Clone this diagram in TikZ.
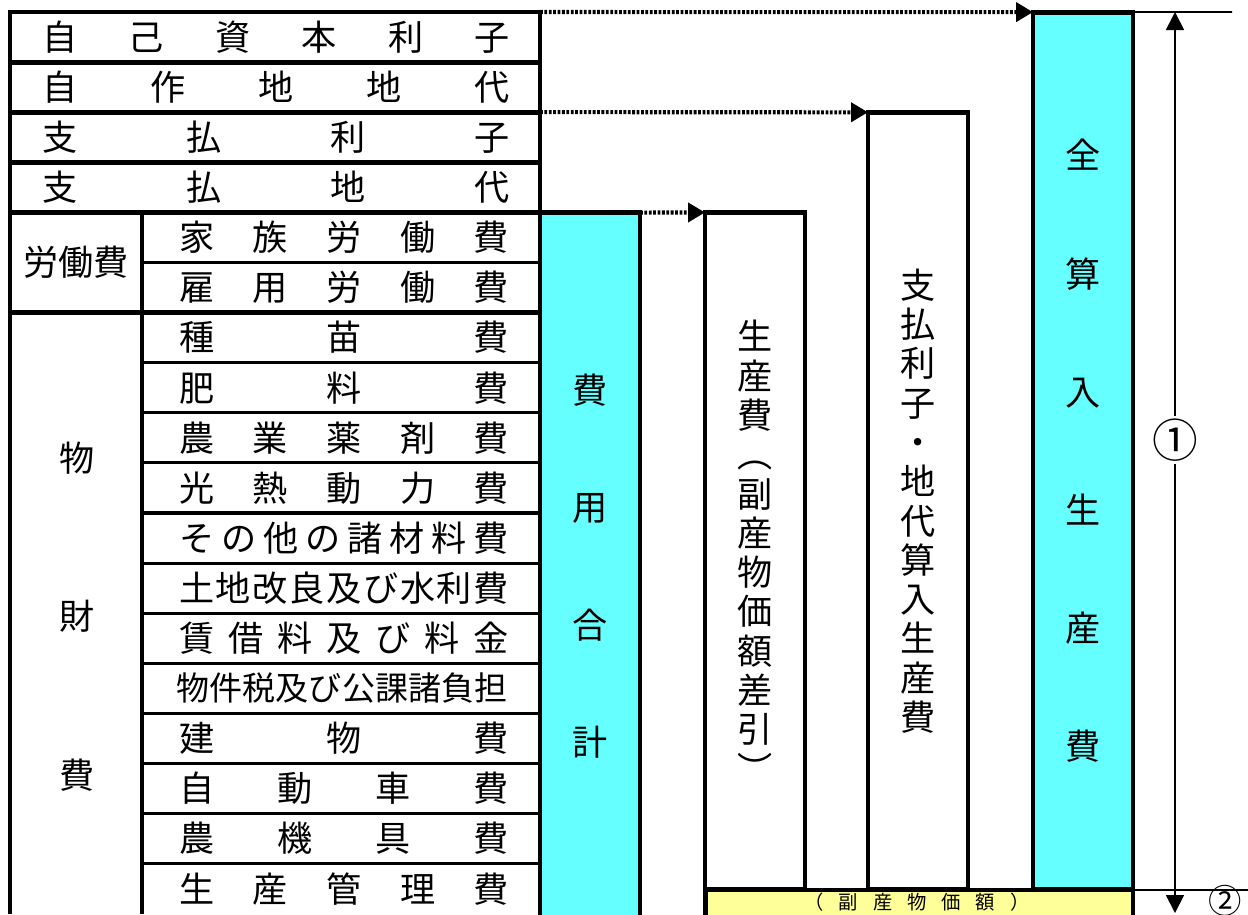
\documentclass[tikz,border=0pt]{standalone}
\usepackage{fontspec}
\setmainfont{Noto Sans CJK JP}
\usetikzlibrary{arrows.meta}

\definecolor{sumcyan}{RGB}{102,255,255}
\definecolor{byyellow}{RGB}{255,255,153}

% spread the characters of #2 evenly over a box of width #1
\newcommand{\spreadrow}[2]{\hbox to #1{\expandafter\spreadrowaux#2\relax}}
\def\spreadrowaux#1#2{#1\ifx\relax#2\else\hfill\expandafter\spreadrowaux\expandafter#2\fi}

\tikzstyle{tblline} = [line width=2.8pt]
\tikzstyle{tblsub} = [line width=1.8pt]
\tikzstyle{rowtext} = [inner sep=0pt, font=\fontsize{20pt}{24pt}\selectfont]
\tikzstyle{colbox} = [draw=black, line width=2.8pt, inner sep=0pt, outer sep=0pt, minimum width=2cm, align=center]
\tikzstyle{dotarrow} = [line width=2.3pt, dash pattern=on 1.6pt off 0.9pt, -{Triangle[length=0.34cm,width=0.38cm]}]
\tikzstyle{dimarrow} = [line width=1pt, -{Triangle[length=0.36cm,width=0.36cm]}]
\tikzstyle{marktext} = [inner sep=1.5pt, font=\fontsize{26pt}{30pt}\selectfont]

\begin{document}
\begin{tikzpicture}[x=0.02cm, y=-0.02cm]
\useasboundingbox (0,0) rectangle (1248,914);

% cost table
\draw[tblline] (10,914) -- (10,12) -- (540,12) -- (540,914);
\foreach \y in {62.1,112.2,162.3,212.4,312.6}
  \draw[tblline] (10,\y) -- (540,\y);
\draw[tblline] (142,212.4) -- (142,914);
\foreach \k in {5,7,8,9,10,11,12,13,14,15,16,17}
  \draw[tblsub] (142,12+50.1*\k) -- (540,12+50.1*\k);

\foreach \txt [count=\i from 0] in {自己資本利子,自作地地代,支払利子,支払地代}
  \node[rowtext] (head\i) at (276,37.05+50.1*\i) {\spreadrow{9.36cm}{\txt}};
\foreach \txt [count=\k from 4] in {家族労働費,雇用労働費,種苗費,肥料費,農業薬剤費,光熱動力費,その他の諸材料費,土地改良及び水利費,賃借料及び料金}
  \node[rowtext] (item\k) at (344,37.05+50.1*\k) {\spreadrow{6.6cm}{\txt}};
\node[rowtext, font=\fontsize{18.8pt}{22pt}\selectfont] (item13) at (342,688.35) {物件税及び公課諸負担};
\foreach \txt [count=\k from 14] in {建物費,自動車費,農機具費,生産管理費}
  \node[rowtext] (item\k) at (344,37.05+50.1*\k) {\spreadrow{6.6cm}{\txt}};

\node[rowtext] (roudou) at (76,262.5) {労働費};
\node[rowtext, align=center, font=\fontsize{20pt}{3.17cm}\selectfont] (buzai) at (77,616.5) {物\\財\\費};

% cost columns
\node[colbox, fill=sumcyan, minimum height=14.15cm, font=\fontsize{20pt}{2.35cm}\selectfont] (hiyou) at (590,566.2) {費\\用\\合\\計};
\node[colbox, minimum height=13.552cm, font=\fontsize{20pt}{0.786cm}\selectfont] (seisan) at (755,551.2) {生\\産\\費\\︵\\副\\産\\物\\価\\額\\差\\引\\︶};
\node[colbox, minimum height=15.556cm, font=\fontsize{20pt}{0.786cm}\selectfont] (shiharai) at (918,501.1) {支\\払\\利\\子\\・\\地\\代\\算\\入\\生\\産\\費};
\node[colbox, fill=sumcyan, minimum height=17.56cm, font=\fontsize{20pt}{2.364cm}\selectfont] (zenbu) at (1083,451) {全\\算\\入\\生\\産\\費};
\node[colbox, fill=byyellow, minimum width=8.56cm, minimum height=0.7cm] (fukusan) at (919,907.5) {};
\node[rowtext, font=\fontsize{11pt}{13pt}\selectfont] (fukusantext) at (917,902.5) {\spreadrow{4.5cm}{（副産物価額）}};

% arrows
\coordinate (tblA) at (540,12);
\coordinate (tblB) at (540,112.2);
\draw[dotarrow] (tblA) -- (zenbu.north west);
\draw[dotarrow] (tblB) -- (shiharai.north west);
\draw[dotarrow] (hiyou.north east) -- (seisan.north west);

% dimensions
\coordinate (dimtop) at (1175,12);
\coordinate (dimbot) at (1175,913);
\coordinate (topend) at (1232,12);
\coordinate (botend) at (1248,890);
\draw[line width=1pt] (zenbu.north east) -- (topend);
\draw[line width=1pt] (fukusan.north east) -- (botend);
\node[marktext, fill=white] (one) at (1175,440) {①};
\draw[dimarrow] (one) -- (dimtop);
\draw[dimarrow] (one) -- (dimbot);
\node[marktext, font=\fontsize{19pt}{22pt}\selectfont] (two) at (1225,901) {②};

\end{tikzpicture}
\end{document}
